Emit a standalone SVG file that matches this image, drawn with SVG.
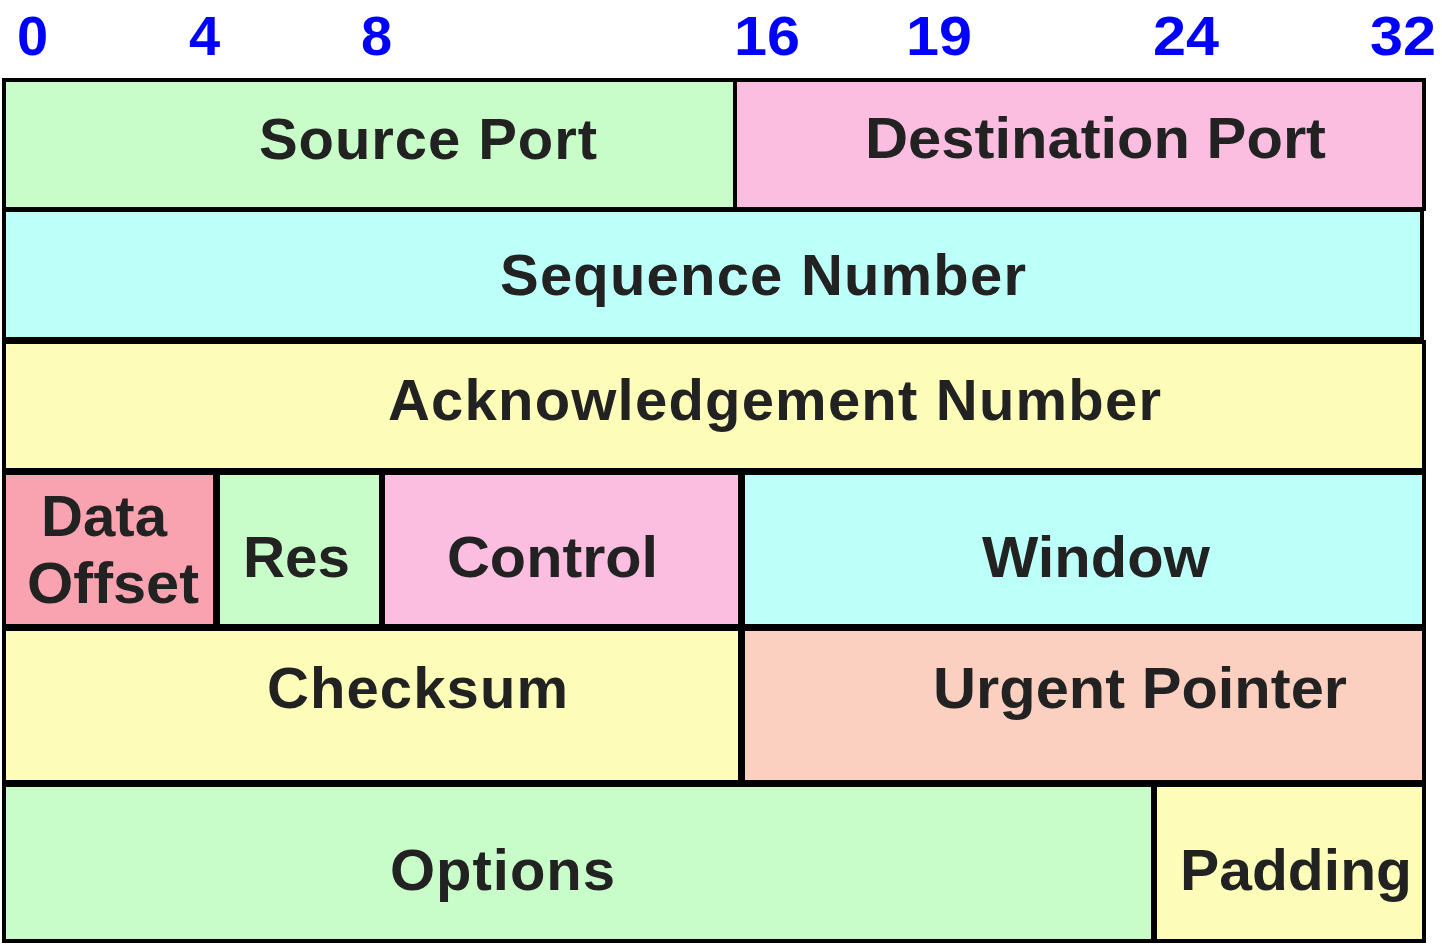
<svg xmlns="http://www.w3.org/2000/svg" width="1442" height="945" viewBox="0 0 1442 945">
  <style>
    .cell { stroke: #000; stroke-width: 4; }
    .green { fill: #C8FCC8; }
    .pink { fill: #FBBDE0; }
    .cyan { fill: #BDFFF9; }
    .yellow { fill: #FDFDB9; }
    .rose { fill: #F9A3B0; }
    .peach { fill: #FBD0C0; }
    .label { font-family: "Liberation Sans", Arial, sans-serif; font-weight: bold; font-size: 58px; fill: #222; }
    .bit { font-family: "Liberation Sans", Arial, sans-serif; font-weight: bold; font-size: 56px; fill: #0000FF; }
  </style>
  <rect width="1442" height="945" fill="#fff"/>

  <!-- bit offsets -->
  <g id="bit-scale">
    <text class="bit" x="17" y="55">0</text>
    <text class="bit" x="189" y="55">4</text>
    <text class="bit" x="361" y="55">8</text>
    <text class="bit" x="734" y="55" textLength="66" lengthAdjust="spacingAndGlyphs">16</text>
    <text class="bit" x="906" y="55" textLength="66" lengthAdjust="spacingAndGlyphs">19</text>
    <text class="bit" x="1153" y="55" textLength="66" lengthAdjust="spacingAndGlyphs">24</text>
    <text class="bit" x="1370" y="55" textLength="66" lengthAdjust="spacingAndGlyphs">32</text>
  </g>

  <!-- row 1 -->
  <g id="source-port">
    <rect class="cell green" x="4" y="80" width="731" height="129"/>
    <text class="label" x="259" y="159" textLength="338" lengthAdjust="spacing">Source Port</text>
  </g>
  <g id="destination-port">
    <rect class="cell pink" x="735" y="80" width="689" height="129"/>
    <text class="label" x="865" y="158" textLength="461" lengthAdjust="spacingAndGlyphs">Destination Port</text>
  </g>

  <!-- row 2 -->
  <g id="sequence-number">
    <rect class="cell cyan" x="4" y="210" width="1418" height="129"/>
    <text class="label" x="500" y="295" textLength="526" lengthAdjust="spacing">Sequence Number</text>
  </g>

  <!-- row 3 -->
  <g id="acknowledgement-number">
    <rect class="cell yellow" x="4" y="342" width="1420" height="128"/>
    <text class="label" x="388" y="420" textLength="773" lengthAdjust="spacing">Acknowledgement Number</text>
  </g>

  <!-- row 4 -->
  <g id="data-offset">
    <rect class="cell rose" x="4" y="473" width="211" height="153"/>
    <text class="label" x="41" y="536" textLength="126" lengthAdjust="spacingAndGlyphs">Data</text>
    <text class="label" x="27" y="603" textLength="172" lengthAdjust="spacingAndGlyphs">Offset</text>
  </g>
  <g id="res">
    <rect class="cell green" x="218" y="473" width="163" height="153"/>
    <text class="label" x="243" y="577" textLength="107" lengthAdjust="spacingAndGlyphs">Res</text>
  </g>
  <g id="control">
    <rect class="cell pink" x="383" y="473" width="357" height="153"/>
    <text class="label" x="447" y="577" textLength="211" lengthAdjust="spacingAndGlyphs">Control</text>
  </g>
  <g id="window">
    <rect class="cell cyan" x="743" y="473" width="681" height="153"/>
    <text class="label" x="982" y="577" textLength="228" lengthAdjust="spacingAndGlyphs">Window</text>
  </g>

  <!-- row 5 -->
  <g id="checksum">
    <rect class="cell yellow" x="4" y="629" width="736" height="153"/>
    <text class="label" x="267" y="708" textLength="301" lengthAdjust="spacing">Checksum</text>
  </g>
  <g id="urgent-pointer">
    <rect class="cell peach" x="743" y="629" width="681" height="153"/>
    <text class="label" x="933" y="708" textLength="414" lengthAdjust="spacingAndGlyphs">Urgent Pointer</text>
  </g>

  <!-- row 6 -->
  <g id="options">
    <rect class="cell green" x="4" y="785" width="1149" height="156"/>
    <text class="label" x="390" y="890" textLength="225" lengthAdjust="spacing">Options</text>
  </g>
  <g id="padding">
    <rect class="cell yellow" x="1155" y="785" width="269" height="156"/>
    <text class="label" x="1180" y="890" textLength="232" lengthAdjust="spacingAndGlyphs">Padding</text>
  </g>

  <g id="connectors"/>
</svg>
